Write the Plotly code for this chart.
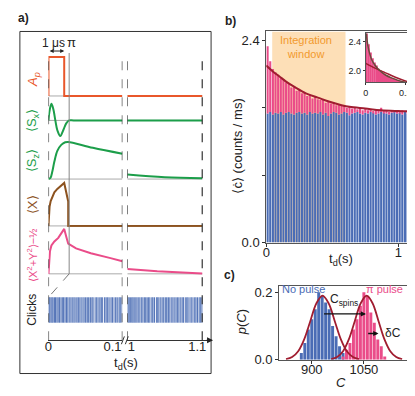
import plotly.graph_objects as go

W, H = 415, 396
FONT = "Liberation Sans, Arial, sans-serif"

# ---- panel a: schematic signals (time in s, left segment 0-0.1, right 1-1.1)
pulse_t = [0, 0, 0.0213, 0.0213, 0.1]
pulse_v = [0, 1, 1, 0, 0]
pulse_t2 = [1.0, 1.1]
pulse_v2 = [0, 0]

sx_t = [0, 0.0013, 0.004, 0.0067, 0.0093, 0.012, 0.016, 0.020, 0.024, 0.028, 0.034, 0.1]
sx_v = [0, 0.53, 1.0, 0.65, 0.0, -0.59, -0.94, -0.59, -0.18, 0.0, 0.0, 0.0]
sx_t2 = [1.0, 1.1]
sx_v2 = [0, 0]

sz_t = [0, 0.0027, 0.0053, 0.008, 0.012, 0.0173, 0.0227, 0.0267, 0.06, 0.1]
sz_v = [0, 0.03, 0.21, 0.47, 0.76, 0.92, 0.99, 1.0, 0.84, 0.68]
sz_t2 = [1.0, 1.05, 1.1]
sz_v2 = [0.12, 0.05, 0.02]

x_t = [0, 0.0005, 0.0015, 0.003, 0.005, 0.008, 0.012, 0.016, 0.0213, 0.0267, 0.0267, 0.1]
x_v = [0, 0.25, 0.45, 0.58, 0.68, 0.78, 0.86, 0.92, 1.0, 0.57, 0, 0]
x_t2 = [1.0, 1.1]
x_v2 = [0, 0]

xy_t = [0, 0.0007, 0.002, 0.004, 0.008, 0.0133, 0.0173, 0.02, 0.0213, 0.024, 0.0267,
        0.0373, 0.0573, 0.084, 0.1]
xy_v = [0, 0.28, 0.5, 0.63, 0.72, 0.8, 0.89, 0.96, 1.0, 0.83, 0.67, 0.565, 0.457, 0.35, 0.28]
xy_t2 = [1.0, 1.04, 1.1]
xy_v2 = [0.11, 0.06, 0.01]

clicks_left_dark = [0.0006, 0.0019, 0.0034, 0.0047, 0.0063, 0.0081, 0.0095, 0.0117, 0.0132, 0.0149,
                    0.0171, 0.0188, 0.0203, 0.0226, 0.0244, 0.0263, 0.0281, 0.0305, 0.0322, 0.0346,
                    0.0361, 0.0383, 0.0405, 0.0424, 0.0441, 0.0467, 0.0483, 0.0502, 0.0526, 0.0543,
                    0.0568, 0.0587, 0.0604, 0.0631, 0.0648, 0.0672, 0.0694, 0.0716, 0.0733, 0.0759,
                    0.0781, 0.0797, 0.0821, 0.0845, 0.0866, 0.0887, 0.0908, 0.0931, 0.0954, 0.0972, 0.0994]
clicks_left_light = [0.0012, 0.0055, 0.0107, 0.0158, 0.0214, 0.0253, 0.0294, 0.0335, 0.0394, 0.0452,
                     0.0514, 0.0556, 0.0597, 0.0659, 0.0705, 0.0768, 0.0809, 0.0856, 0.0919, 0.0962]
clicks_right_dark = [1.0008, 1.0026, 1.0041, 1.0059, 1.0077, 1.0092, 1.0114, 1.0129, 1.0153, 1.0168,
                     1.0187, 1.0209, 1.0228, 1.0241, 1.0266, 1.0284, 1.0302, 1.0327, 1.0339, 1.0363,
                     1.0388, 1.0406, 1.0421, 1.0447, 1.0465, 1.0481, 1.0508, 1.0525, 1.0549, 1.0567,
                     1.0586, 1.0609, 1.0626, 1.0652, 1.0671, 1.0688, 1.0714, 1.0732, 1.0751, 1.0774,
                     1.0793, 1.0812, 1.0836, 1.0853, 1.0877, 1.0899, 1.0918, 1.0937, 1.0958, 1.0979, 1.0996]
clicks_right_light = [1.0017, 1.0068, 1.0103, 1.0141, 1.0197, 1.0256, 1.0292, 1.0351, 1.0397, 1.0436,
                      1.0493, 1.0537, 1.0598, 1.0641, 1.0702, 1.0743, 1.0803, 1.0862, 1.0908, 1.0967]

# ---- panel b: count rate per 20 ms bin
bin_t = [0.01 + 0.02 * i for i in range(55)]
rate_pi = [2.33, 2.15, 2.06, 2.02, 1.99, 1.95, 1.94, 1.90, 1.89, 1.84, 1.85, 1.80, 1.81, 1.77,
           1.78, 1.74, 1.75, 1.71, 1.73, 1.70, 1.69, 1.70, 1.66, 1.67, 1.65, 1.66, 1.63, 1.64,
           1.62, 1.63, 1.60, 1.62, 1.59, 1.60, 1.58, 1.60, 1.57, 1.59, 1.57, 1.58, 1.56, 1.58,
           1.56, 1.60, 1.56, 1.57, 1.55, 1.57, 1.56, 1.56, 1.55, 1.57, 1.55, 1.56, 1.55]
rate_nopulse = [1.53, 1.55, 1.52, 1.54, 1.53, 1.55, 1.52, 1.54, 1.55, 1.53, 1.52, 1.54, 1.55, 1.53,
                1.54, 1.52, 1.55, 1.53, 1.54, 1.53, 1.55, 1.52, 1.54, 1.50, 1.53, 1.55, 1.54, 1.52,
                1.53, 1.55, 1.54, 1.51, 1.53, 1.54, 1.55, 1.53, 1.52, 1.54, 1.53, 1.55, 1.54, 1.52,
                1.53, 1.55, 1.54, 1.53, 1.52, 1.54, 1.55, 1.53, 1.54, 1.52, 1.55, 1.53, 1.54]
fit_t = [0, 0.05, 0.1, 0.15, 0.22, 0.3, 0.39, 0.48, 0.57, 0.63, 0.75, 0.87, 1.0, 1.1]
fit_v = [2.10, 2.03, 1.97, 1.91, 1.84, 1.77, 1.72, 1.67, 1.63, 1.61, 1.59, 1.57, 1.56, 1.555]
window = [0.045, 0.6]

# inset: 10 ms bins
inset_t = [0.005 + 0.01 * i for i in range(20)]
inset_rate = [2.55, 2.36, 2.25, 2.17, 2.11, 2.07, 2.03, 2.01, 1.98, 1.96,
              1.94, 1.93, 1.91, 1.90, 1.89, 1.88, 1.87, 1.86, 1.85, 1.85]
fit2_t = [0, 0.005, 0.01, 0.02, 0.03, 0.045, 0.06, 0.08, 0.1, 0.13, 0.16, 0.2, 0.22]
fit2_v = [2.62, 2.45, 2.35, 2.23, 2.15, 2.08, 2.03, 1.98, 1.94, 1.90, 1.87, 1.84, 1.83]

# ---- panel c: histograms of integrated counts
hist_c_nopulse = [870, 880, 890, 900, 910, 920, 930, 940, 950, 960, 970, 980, 990]
hist_p_nopulse = [0.02, 0.05, 0.09, 0.12, 0.15, 0.20, 0.19, 0.17, 0.15, 0.10, 0.07, 0.04, 0.02]
hist_c_pi = [990, 1000, 1010, 1020, 1030, 1040, 1050, 1060, 1070, 1080, 1090, 1100, 1110]
hist_p_pi = [0.01, 0.03, 0.05, 0.09, 0.12, 0.16, 0.20, 0.19, 0.14, 0.11, 0.06, 0.04, 0.01]
gauss_c_nopulse = [826, 843.5, 861, 878.5, 896, 913.5, 931, 948.5, 966, 983.5, 1001, 1018.5, 1036]
gauss_c_pi = [956, 973, 990, 1007, 1024, 1041, 1058, 1075, 1092, 1109, 1126, 1143, 1160]
gauss_p = [0.0021, 0.0083, 0.0257, 0.0616, 0.1152, 0.1677, 0.19, 0.1677, 0.1152, 0.0616,
           0.0257, 0.0083, 0.0021]

ORANGE = "#E9572B"
GREEN = "#1C9E4A"
BROWN = "#8C521F"
PINK = "#EA4C89"
BLUE = "#4A6CB5"
DARKRED = "#A01D30"


def xdom(l, r):
    return [l / W, r / W]


def ydom(top, bot):
    return [1 - bot / H, 1 - top / H]


def yrange(p0, p1, top, bot):
    s = p0 - p1
    return [(p0 - bot) / s, (p0 - top) / s]


def fx(px):
    return px / W


def fy(py):
    return 1 - py / H


fig = go.Figure()

# rows: (left data, right data, colour, px of 0, px of 1, top, bottom, shape)
rows = [
    ((pulse_t, pulse_v), (pulse_t2, pulse_v2), ORANGE, 89, 49, 40, 93, "linear"),
    ((sx_t, sx_v), (sx_t2, sx_v2), GREEN, 114, 97, 93, 135, "spline"),
    ((sz_t, sz_v), (sz_t2, sz_v2), GREEN, 174, 136, 133, 177, "spline"),
    ((x_t, x_v), (x_t2, x_v2), BROWN, 222, 178, 176, 225, "linear"),
    ((xy_t, xy_v), (xy_t2, xy_v2), PINK, 271, 225, 223, 274, "linear"),
]

layout = dict(
    width=W, height=H, margin=dict(l=0, r=0, t=0, b=0),
    paper_bgcolor="white", plot_bgcolor="white", showlegend=False, barmode="overlay",
    font=dict(family=FONT, size=12, color="#222"),
)
shapes = []
annotations = []

for i, (left, right, col, p0, p1, top, bot, shp) in enumerate(rows):
    ya = "y" if i == 0 else "y%d" % (i + 1)
    key = "yaxis" if i == 0 else "yaxis%d" % (i + 1)
    layout[key] = dict(domain=ydom(top, bot), range=yrange(p0, p1, top, bot), anchor="x", visible=False)
    for xa, (tt, vv), x0, x1 in (("x", left, 0, 0.1), ("x2", right, 1.0, 1.1)):
        shapes.append(dict(type="line", xref=xa, yref=ya, x0=x0, x1=x1, y0=0, y1=0,
                           line=dict(color="#aaaaaa", width=1), layer="below"))
        fig.add_trace(go.Scatter(x=tt, y=vv, mode="lines", xaxis=xa, yaxis=ya,
                                 line=dict(color=col, width=2, shape=shp), hoverinfo="skip"))

# clicks row
layout["yaxis6"] = dict(domain=ydom(293, 323), range=yrange(321, 295, 293, 323), anchor="x", visible=False)
for xa, clicks, col in (("x", clicks_left_light, "#A9BCE0"), ("x", clicks_left_dark, "#5575B8"),
                        ("x2", clicks_right_light, "#A9BCE0"), ("x2", clicks_right_dark, "#5575B8")):
    xs, ys = [], []
    for t in clicks:
        xs += [t, t, None]
        ys += [0, 1, None]
    fig.add_trace(go.Scatter(x=xs, y=ys, mode="lines", xaxis=xa, yaxis="y6",
                             line=dict(color=col, width=1), hoverinfo="skip"))

# broken time axis; labels sit a little off the tick positions, as in the original
axis_a = dict(anchor="free", position=fy(339), showline=True, linecolor="#333", linewidth=1,
              ticks="", showgrid=False, zeroline=False, tickfont=dict(size=13), ticklabelstandoff=-6)
layout["xaxis"] = dict(axis_a, domain=xdom(37, 112), range=[0, 0.1], tickvals=[0, 0.0867],
                       ticktext=["0", "0.1"])
layout["xaxis2"] = dict(axis_a, domain=xdom(117, 201), range=[1.0, 1.1105], tickvals=[1.0053, 1.0934],
                        ticktext=["1", "1.1"])

# guide lines panel a
shapes.append(dict(type="rect", xref="paper", yref="paper", x0=fx(8), x1=fx(202), y0=fy(373), y1=fy(23),
                   line=dict(color="#333", width=1)))
shapes.append(dict(type="line", xref="x", yref="paper", x0=0.028, x1=0.028, y0=fy(271), y1=fy(45),
                   line=dict(color="#888", width=1)))
for xa, t in (("x", 0), ("x", 0.1), ("x2", 1.0), ("x2", 1.1)):
    shapes.append(dict(type="line", xref=xa, yref="paper", x0=t, x1=t, y0=fy(339), y1=fy(45),
                       line=dict(color="#333", width=1.2, dash="dash")))
shapes.append(dict(type="line", xref="x", yref="paper", x0=0.028, x1=0, y0=fy(271), y1=fy(295),
                   line=dict(color="#777", width=1, dash="dash")))
for bx in (111, 115):
    shapes.append(dict(type="line", xref="paper", yref="paper", x0=fx(bx), x1=fx(bx + 3),
                       y0=fy(343), y1=fy(335), line=dict(color="#333", width=1)))


def ann(text, px, py, size=12, color="#222", angle=0, **kw):
    annotations.append(dict(text=text, x=fx(px), y=fy(py), xref="paper", yref="paper", showarrow=False,
                            xanchor="center", yanchor="middle",
                            font=dict(size=size, color=color, family=FONT), textangle=angle, **kw))


ann("<b>a)</b>", 12, 9, 12)
ann("<b>b)</b>", 222, 12, 12)
ann("<b>c)</b>", 221, 272, 12)
ann("<i>A<sub>p</sub></i>", 22, 72, 13, ORANGE, -90)
ann("⟨S<sub>x</sub>⟩", 21, 114, 13, GREEN, -90)
ann("⟨S<sub>z</sub>⟩", 21, 155, 13, GREEN, -90)
ann("⟨X⟩", 21, 200, 13, BROWN, -90)
ann("⟨X<sup>2</sup>+Y<sup>2</sup>⟩−½", 21, 252, 11, PINK, -90)
ann("Clicks", 20, 308, 12, "#222", -90)
ann("1 μs", 42, 35, 12)
ann("π", 60, 34, 13)
ann("t<sub>d</sub>(s)", 116, 363, 13)
annotations.append(dict(x=0.0213, y=fy(43), xref="x", yref="paper", ax=-16, ay=0, axref="pixel",
                        ayref="pixel", showarrow=True, arrowhead=2, arrowside="end+start",
                        arrowsize=0.8, arrowwidth=1, arrowcolor="#222", text=""))
annotations.append(dict(x=fx(204), y=fy(339), xref="paper", yref="paper", ax=-8, ay=0, showarrow=True,
                        arrowhead=2, arrowsize=1, arrowwidth=1.2, arrowcolor="#222", text=""))

# ---- panel b
shapes.append(dict(type="rect", xref="x3", yref="y7", x0=window[0], x1=window[1], y0=0, y1=2.504,
                   fillcolor="#FDDFB7", line=dict(width=0), layer="below"))
fig.add_trace(go.Bar(x=bin_t, y=rate_nopulse, width=0.016, marker=dict(color=BLUE, line=dict(width=0)),
                     xaxis="x3", yaxis="y7", hoverinfo="skip"))
fig.add_trace(go.Bar(x=bin_t, y=[p - n for p, n in zip(rate_pi, rate_nopulse)], base=rate_nopulse,
                     width=0.016, marker=dict(color=PINK, line=dict(width=0)),
                     xaxis="x3", yaxis="y7", hoverinfo="skip"))
fig.add_trace(go.Scatter(x=fit_t, y=fit_v, mode="lines", line=dict(color=DARKRED, width=2, shape="spline"),
                         xaxis="x3", yaxis="y7", hoverinfo="skip"))
frame = dict(showline=True, mirror=True, linecolor="#555", linewidth=1, ticks="outside", ticklen=3,
             tickcolor="#333", showgrid=False, zeroline=False)
layout["xaxis3"] = dict(frame, domain=xdom(258, 405), range=[0, 1.097], anchor="y7", tickvals=[0, 1],
                        ticktext=["0", "1"], tickfont=dict(size=13), ticklabelstandoff=-5)
layout["yaxis7"] = dict(frame, domain=ydom(23, 239), range=[0, 2.504], anchor="x3",
                        tickvals=[0, 0.8, 1.6, 2.4], ticktext=["0.0", "", "", "2.4"], tickfont=dict(size=13))
ann("Integration<br>window", 298, 39, 11, "#F29A2E")
ann("⟨ċ⟩ (counts / ms)", 229, 140, 13, "#222", -90)
ann("t<sub>d</sub>(s)", 334, 256, 13)

# inset
shapes.append(dict(type="rect", xref="paper", yref="paper", x0=fx(359), x1=fx(403), y0=fy(75), y1=fy(25),
                   fillcolor="white", line=dict(width=0), layer="below"))
fig.add_trace(go.Bar(x=inset_t, y=inset_rate, width=0.0085, marker=dict(color=PINK, line=dict(width=0)),
                     xaxis="x4", yaxis="y8", hoverinfo="skip"))
fig.add_trace(go.Scatter(x=fit_t, y=fit_v, mode="lines", line=dict(color=DARKRED, width=1.5, shape="spline"),
                         xaxis="x4", yaxis="y8", hoverinfo="skip"))
fig.add_trace(go.Scatter(x=fit2_t, y=fit2_v, mode="lines", line=dict(color="#6A4B3C", width=1.5, shape="spline"),
                         xaxis="x4", yaxis="y8", hoverinfo="skip"))
layout["xaxis4"] = dict(frame, domain=xdom(359, 403), range=[0, 0.22], anchor="y8", tickvals=[0, 0.2],
                        ticktext=["0", "0.2"], tickfont=dict(size=9), ticklen=2)
layout["yaxis8"] = dict(frame, domain=ydom(25, 75), range=[1.84, 2.51], anchor="x4", tickvals=[2.0, 2.4],
                        ticktext=["2.0", "2.4"], tickfont=dict(size=9), ticklen=2)

# ---- panel c
fig.add_trace(go.Bar(x=hist_c_nopulse, y=hist_p_nopulse, width=8.5, marker=dict(color=BLUE, line=dict(width=0)),
                     xaxis="x5", yaxis="y9", hoverinfo="skip"))
fig.add_trace(go.Bar(x=hist_c_pi, y=hist_p_pi, width=8.5, marker=dict(color=PINK, line=dict(width=0)),
                     xaxis="x5", yaxis="y9", hoverinfo="skip"))
for gc in (gauss_c_nopulse, gauss_c_pi):
    fig.add_trace(go.Scatter(x=gc, y=gauss_p, mode="lines", line=dict(color=DARKRED, width=1.8, shape="spline"),
                             xaxis="x5", yaxis="y9", hoverinfo="skip"))
layout["xaxis5"] = dict(frame, domain=xdom(271, 405), range=[806, 1186], anchor="y9", tickvals=[900, 1050],
                        ticktext=["900", "1050"], tickfont=dict(size=13), ticklabelstandoff=-5)
layout["yaxis9"] = dict(frame, domain=ydom(283, 359), range=[0, 0.22], anchor="x5", tickvals=[0, 0.2],
                        ticktext=["0.0", "0.2"], tickfont=dict(size=13))
ann("No pulse", 296, 287, 11, BLUE)
ann("π pulse", 378, 287, 11, PINK)
ann("C<sub>spins</sub>", 337, 298, 12)
ann("δC", 387, 332, 12)
ann("<i>p</i>(<i>C</i>)", 233, 321, 13, "#222", -90)
ann("<i>C</i>", 334, 382, 13)
annotations.append(dict(x=1056, y=0.136, xref="x5", yref="y9", ax=931, ay=0.136, axref="x5", ayref="y9",
                        showarrow=True, arrowhead=2, arrowsize=0.8, arrowwidth=1.3, arrowcolor="#111", text=""))
annotations.append(dict(x=1092, y=0.078, xref="x5", yref="y9", ax=1058, ay=0.078, axref="x5", ayref="y9",
                        showarrow=True, arrowhead=2, arrowsize=0.8, arrowwidth=1.3, arrowcolor="#111", text=""))

layout["shapes"] = shapes
layout["annotations"] = annotations
fig.update_layout(**layout)
fig.write_html("out.html")
